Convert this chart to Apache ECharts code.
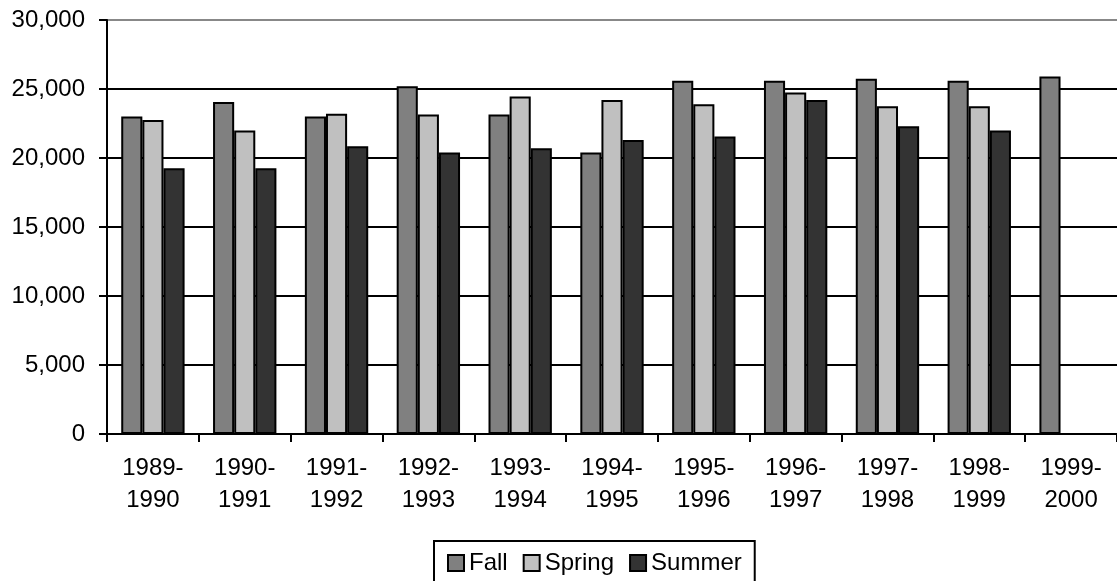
<!DOCTYPE html>
<html>
<head>
<meta charset="utf-8">
<script src="https://cdn.jsdelivr.net/npm/echarts@6/dist/echarts.min.js"></script>
<style>
  html, body { margin: 0; padding: 0; background: #fff; }
  #chart { width: 1117px; height: 581px; }
</style>
</head>
<body>
<div id="chart"></div>
<script>
var years = ['1989-1990', '1990-1991', '1991-1992', '1992-1993', '1993-1994', '1994-1995',
             '1995-1996', '1996-1997', '1997-1998', '1998-1999', '1999-2000'];
var fall   = [23000, 24050, 23000, 25200, 23150, 20400, 25600, 25600, 25750, 25600, 25900];
var spring = [22750, 22000, 23200, 23150, 24450, 24200, 23900, 24750, 23750, 23750, null];
var summer = [19250, 19250, 20850, 20400, 20700, 21300, 21550, 24200, 22300, 22000, null];
var yTicks = [0, 5000, 10000, 15000, 20000, 25000, 30000];

var font = "'Liberation Sans', Arial, sans-serif";

var myChart = echarts.init(document.getElementById('chart'));

function barSeries(name, data, color) {
    return {
        name: name,
        type: 'bar',
        data: data,
        barGap: '0%',
        barCategoryGap: '31%',
        itemStyle: {
            color: color,
            borderColor: '#000',
            borderWidth: 2
        }
    };
}

option = {
    animation: false,
    backgroundColor: '#fff',
    grid: {
        left: 107,
        top: 20,
        width: 1012,
        bottom: 147
    },
    xAxis: {
        type: 'category',
        data: years,
        axisLine: { lineStyle: { color: '#000', width: 2 } },
        axisTick: { show: true, length: 8, lineStyle: { color: '#000', width: 2 } },
        axisLabel: {
            color: '#000',
            fontFamily: font,
            fontSize: 24,
            lineHeight: 32,
            margin: 18,
            interval: 0,
            formatter: function (v) { return v.replace('-', '-\n'); }
        }
    },
    yAxis: {
        type: 'value',
        min: yTicks[0],
        max: yTicks[yTicks.length - 1],
        interval: 5000,
        axisLine: { show: true, lineStyle: { color: '#000', width: 2 } },
        axisTick: { show: true, length: 8, lineStyle: { color: '#000', width: 2 } },
        splitLine: {
            show: true,
            lineStyle: {
                color: ['#000', '#000', '#000', '#000', '#000', '#000', '#888'],
                width: 2
            }
        },
        axisLabel: {
            color: '#000',
            fontFamily: font,
            fontSize: 24,
            margin: 22,
            formatter: function (v) { return v.toLocaleString('en-US'); }
        }
    },
    legend: {
        left: 434,
        top: 541,
        orient: 'horizontal',
        icon: 'rect',
        itemWidth: 16,
        itemHeight: 16,
        itemGap: 15,
        padding: [10, 13, 14, 13],
        borderColor: '#000',
        borderWidth: 2,
        textStyle: { color: '#000', fontFamily: font, fontSize: 24 },
        data: ['Fall', 'Spring', 'Summer']
    },
    series: [
        barSeries('Fall', fall, '#808080'),
        barSeries('Spring', spring, '#c0c0c0'),
        barSeries('Summer', summer, '#333333')
    ]
};

myChart.setOption(option);
</script>
</body>
</html>
